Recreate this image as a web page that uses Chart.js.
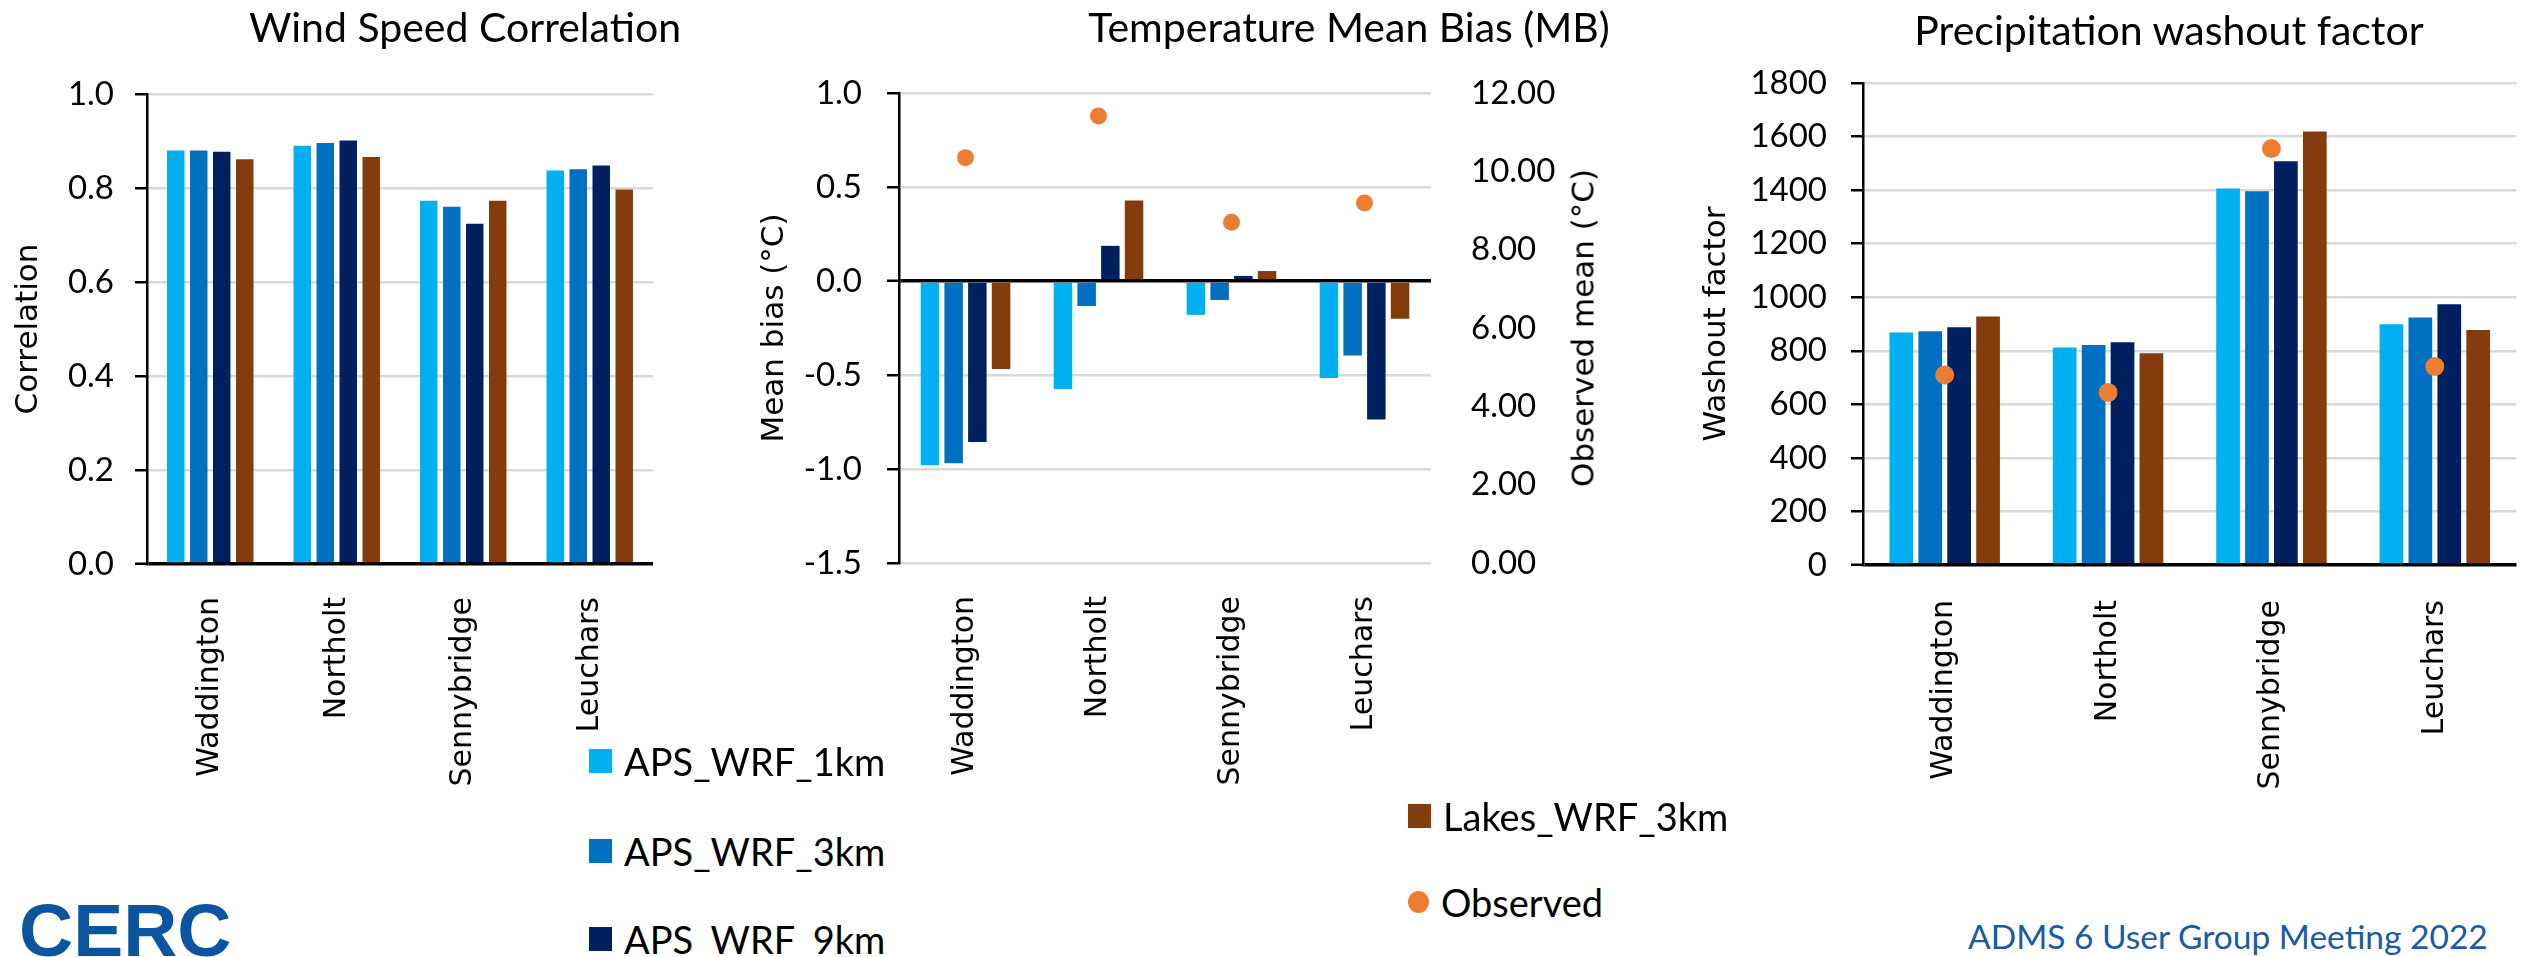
<!DOCTYPE html>
<html>
<head>
<meta charset="utf-8">
<title>APS / Lakes WRF met comparison</title>
<script src="https://cdn.jsdelivr.net/npm/chart.js@4.4.1/dist/chart.umd.min.js"></script>
<style>
  html, body { margin: 0; padding: 0; background: #fff; }
  body {
    position: relative;
    width: 2526px;
    height: 957px;
    overflow: hidden;
    font-family: Lato, 'Open Sans', sans-serif;
    color: #000;
  }
  canvas { position: absolute; top: 0; }
  .chart-title {
    position: absolute;
    font-size: 41px;
    line-height: 41px;
    white-space: nowrap;
    transform: translateX(-50%);
  }
  .axis-title-right {
    position: absolute;
    font-family: 'DejaVu Sans', sans-serif;
    font-size: 31px;
    line-height: 37px;
    white-space: nowrap;
    transform: translate(-50%, -50%) rotate(-90deg);
  }
  .legend-item {
    position: absolute;
    display: flex;
    align-items: center;
    height: 46px;
    font-size: 38px;
    white-space: nowrap;
  }
  .legend-item .swatch { width: 23px; height: 24px; margin-right: 12px; }
  .legend-item .dot { width: 21px; height: 22px; border-radius: 50%; margin-right: 12px; }
  .logo {
    position: absolute;
    left: 19px;
    top: 893px;
    font-family: 'Liberation Sans', Arial, sans-serif;
    font-weight: bold;
    font-size: 75px;
    line-height: 75px;
    color: #0b55a0;
  }
  .footer {
    position: absolute;
    left: 1968px;
    top: 916px;
    font-size: 33.5px;
    line-height: 40px;
    color: #1a5aa6;
    white-space: nowrap;
  }
</style>
</head>
<body>

<canvas id="windChart" width="665" height="820" style="left:0px"></canvas>
<canvas id="tempChart" width="930" height="820" style="left:720px"></canvas>
<canvas id="washChart" width="886" height="820" style="left:1640px"></canvas>

<div class="chart-title" style="left:465px; top:6px">Wind Speed Correlation</div>
<div class="chart-title" style="left:1349px; top:6px">Temperature Mean Bias (MB)</div>
<div class="chart-title" style="left:2169px; top:9px">Precipitation washout factor</div>
<div class="axis-title-right" style="left:1583px; top:328px">Observed mean (°C)</div>

<div id="legend"></div>

<div class="logo">CERC</div>
<div class="footer">ADMS 6 User Group Meeting 2022</div>

<script>
(function() {
    'use strict';

    // Stations (categories) and model runs (series)
    const stations = ['Waddington', 'Northolt', 'Sennybridge', 'Leuchars'];
    const seriesNames = ['APS_WRF_1km', 'APS_WRF_3km', 'APS_WRF_9km', 'Lakes_WRF_3km'];
    const seriesColors = ['#00b0f0', '#0070c0', '#002060', '#843c0c'];
    const observedName = 'Observed';
    const observedColor = '#ed7d31';

    // Wind speed correlation
    const windAps1km = [0.880, 0.890, 0.773, 0.837];
    const windAps3km = [0.880, 0.896, 0.760, 0.840];
    const windAps9km = [0.877, 0.901, 0.724, 0.848];
    const windLakes3km = [0.861, 0.866, 0.773, 0.797];

    // Temperature mean bias (degC) and observed mean temperature (degC)
    const tempAps1km = [-0.980, -0.574, -0.180, -0.516];
    const tempAps3km = [-0.970, -0.133, -0.101, -0.396];
    const tempAps9km = [-0.857, 0.187, 0.027, -0.737];
    const tempLakes3km = [-0.468, 0.428, 0.053, -0.201];
    const tempObserved = [10.35, 11.41, 8.70, 9.19];

    // Precipitation washout factor
    const washAps1km = [868, 812, 1406, 899];
    const washAps3km = [873, 822, 1396, 924];
    const washAps9km = [888, 832, 1508, 974];
    const washLakes3km = [928, 791, 1619, 878];
    const washObserved = [710, 644, 1555, 741];

    // Axis ranges: [min, max, step]
    const corrRange = [0, 1, 0.2];
    const biasRange = [-1.5, 1, 0.5];
    const obsMeanRange = [0, 12, 2];
    const washRange = [0, 1800, 200];

    const tickFont = { family: "Lato, 'Open Sans', sans-serif", size: 33 };
    const axisFont = { family: "'DejaVu Sans', sans-serif", size: 31 };
    const catFont = { family: "'DejaVu Sans', sans-serif", size: 30 };

    // Grid line at zero is drawn as the black category axis
    function gridColor(ctx) {
        return ctx.tick && ctx.tick.value === 0 ? '#000' : '#d9d9d9';
    }
    function gridWidth(ctx) {
        return ctx.tick && ctx.tick.value === 0 ? 3.5 : 2.5;
    }

    function barSets(values, catPct, barPct) {
        return values.map((data, i) => ({
            type: 'bar',
            label: seriesNames[i],
            data: data,
            backgroundColor: seriesColors[i],
            borderWidth: 0,
            categoryPercentage: catPct,
            barPercentage: barPct,
            order: 1
        }));
    }

    function observedSet(data, axisId, radius) {
        return {
            type: 'line',
            label: observedName,
            data: data,
            yAxisID: axisId,
            showLine: false,
            pointRadius: radius,
            pointHoverRadius: radius,
            pointBackgroundColor: observedColor,
            pointBorderWidth: 0,
            order: 0
        };
    }

    function xScale(height, pad) {
        return {
            type: 'category',
            grid: { display: false },
            border: { display: false },
            ticks: {
                autoSkip: false,
                minRotation: 90,
                maxRotation: 90,
                padding: pad,
                color: '#000',
                font: catFont
            },
            afterFit: function(scale) { scale.height = height; }
        };
    }

    function yScale(range, title, titlePad, width, labelPad, decimals) {
        return {
            position: 'left',
            min: range[0],
            max: range[1],
            grid: {
                color: gridColor,
                lineWidth: gridWidth,
                tickColor: '#000',
                tickWidth: 2.5,
                tickLength: 12
            },
            border: { display: true, color: '#000', width: 2.5 },
            ticks: {
                stepSize: range[2],
                padding: labelPad,
                color: '#000',
                font: tickFont,
                callback: function(value) { return value.toFixed(decimals); }
            },
            title: {
                display: true,
                text: title,
                color: '#000',
                font: axisFont,
                padding: { top: titlePad, bottom: 0 }
            },
            afterFit: function(scale) { scale.width = width; }
        };
    }

    const baseOptions = {
        responsive: false,
        animation: false,
        events: [],
        plugins: {
            legend: { display: false },
            tooltip: { enabled: false },
            title: { display: false }
        }
    };

    // Wind speed correlation
    new Chart(document.getElementById('windChart'), {
        data: {
            labels: stations,
            datasets: barSets([windAps1km, windAps3km, windAps9km, windLakes3km], 0.727, 0.76)
        },
        options: Object.assign({}, baseOptions, {
            layout: { padding: { top: 94, right: 12, bottom: 0, left: 0 } },
            scales: {
                x: xScale(820 - 564, 25),
                y: yScale(corrRange, 'Correlation', 10, 147, 21, 1)
            }
        })
    });

    // Temperature mean bias with observed mean on the right axis
    const tempY2 = {
        position: 'right',
        min: obsMeanRange[0],
        max: obsMeanRange[1],
        grid: { display: false, drawOnChartArea: false },
        border: { display: false },
        ticks: {
            stepSize: obsMeanRange[2],
            padding: 32,
            color: '#000',
            font: tickFont,
            callback: function(value) { return value.toFixed(2); }
        },
        afterFit: function(scale) { scale.width = 930 - 711; }
    };

    new Chart(document.getElementById('tempChart'), {
        data: {
            labels: stations,
            datasets: barSets([tempAps1km, tempAps3km, tempAps9km, tempLakes3km], 0.713, 0.78)
                .concat([observedSet(tempObserved, 'y2', 8.5)])
        },
        options: Object.assign({}, baseOptions, {
            layout: { padding: { top: 93, right: 0, bottom: 0, left: 0 } },
            scales: {
                x: xScale(820 - 563, 25),
                y: yScale(biasRange, 'Mean bias (°C)', 36, 179, 25, 1),
                y2: tempY2
            }
        })
    });

    // Precipitation washout factor
    new Chart(document.getElementById('washChart'), {
        data: {
            labels: stations,
            datasets: barSets([washAps1km, washAps3km, washAps9km, washLakes3km], 0.708, 0.82)
                .concat([observedSet(washObserved, 'y', 9.5)])
        },
        options: Object.assign({}, baseOptions, {
            layout: { padding: { top: 83, right: 3, bottom: 0, left: 0 } },
            scales: {
                x: xScale(820 - 565, 27),
                y: yScale(washRange, 'Washout factor', 58, 223, 24, 0)
            }
        })
    });

    // Shared legend, split in two columns under the charts
    const legendSpots = [
        { left: 589, mid: 761 },
        { left: 589, mid: 851 },
        { left: 589, mid: 939 },
        { left: 1408, mid: 816 },
        { left: 1408, mid: 902 }
    ];
    const legend = document.getElementById('legend');
    const entries = seriesNames.map((name, i) => ({ name: name, color: seriesColors[i], mark: 'swatch' }))
        .concat([{ name: observedName, color: observedColor, mark: 'dot' }]);

    legend.innerHTML = entries.map((entry, i) => {
        const spot = legendSpots[i];
        return `
            <div class="legend-item" style="left:${spot.left}px; top:${spot.mid - 23}px">
                <span class="${entry.mark}" style="background:${entry.color}"></span>${entry.name}
            </div>
        `;
    }).join('');
})();
</script>
</body>
</html>
